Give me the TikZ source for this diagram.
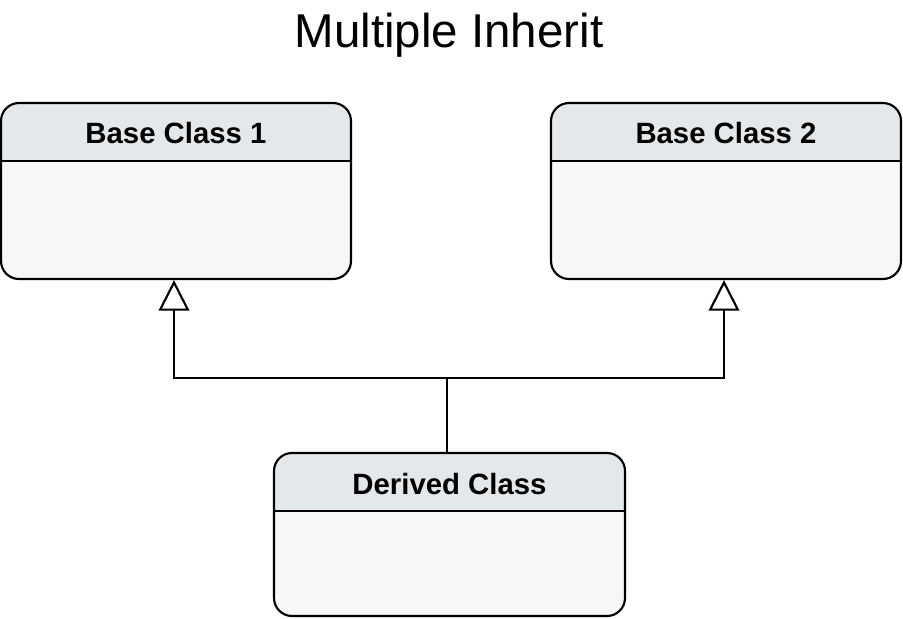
\documentclass[tikz,border=0pt]{standalone}
\usepackage{fontspec}
\setmainfont{Liberation Sans}
\usetikzlibrary{arrows.meta}
\definecolor{headfill}{HTML}{E5E8EB}
\definecolor{bodyfill}{HTML}{F7F7F7}
\tikzset{
classbox/.style={draw, line width=1.6pt, fill=bodyfill, rounded corners=13.5pt, minimum width=350*0.75pt,
  path picture={\fill[headfill, sharp corners] (path picture bounding box.north west) rectangle ([yshift=-43.5pt]path picture bounding box.north east);
  \draw[line width=1.6pt, sharp corners] ([yshift=-43.5pt]path picture bounding box.north west) -- ([yshift=-43.5pt]path picture bounding box.north east);}},
classname/.style={anchor=base, font=\fontsize{22}{25}\selectfont\bfseries},
inherit/.style={line width=1.6pt, -{Triangle[open, fill=white, width=23pt, length=23pt]}}
}
\begin{document}
\begin{tikzpicture}[x=0.75pt, y=-0.75pt]
\useasboundingbox (0,0) rectangle (903,618);
\node[anchor=base, font=\fontsize{35.6}{40}\selectfont] (title) at (449,47) {Multiple Inherit};
\node[classbox, minimum height=176*0.75pt] (base1) at (176,191) {};
\node[classbox, minimum height=176*0.75pt] (base2) at (726,191) {};
\node[classbox, minimum height=163*0.75pt, minimum width=351*0.75pt] (derived) at (449.5,534.5) {};
\node[classname] (base1name) at (176,143) {Base Class 1};
\node[classname] (base2name) at (726,143) {Base Class 2};
\node[classname] (derivedname) at (449.5,494) {Derived Class};
\coordinate (fork) at (447,378);
\draw[line width=1.6pt] (derived.north -| fork) -- (fork);
\draw[inherit] (fork) -| ([xshift=-1.5pt]base1.south);
\draw[inherit] (fork) -| ([xshift=-1.5pt]base2.south);
\end{tikzpicture}
\end{document}
